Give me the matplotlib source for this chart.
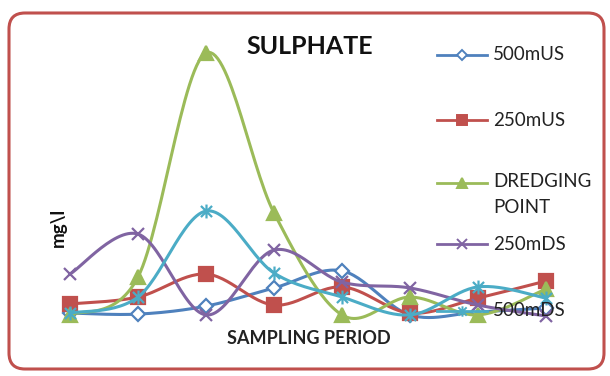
import numpy as np
import matplotlib
matplotlib.use("Agg")
import matplotlib.pyplot as plt
from matplotlib.patches import FancyBboxPatch
from matplotlib.lines import Line2D
from matplotlib.path import Path
from matplotlib.transforms import IdentityTransform

plt.rcParams['font.family'] = ['Lato', 'DejaVu Sans']

periods = [1, 2, 3, 4, 5, 6, 7, 8]
names = ['500mUS', '250mUS', 'DREDGING\nPOINT', '250mDS', '500mDS']
s500us = [2.6, 2.2, 5.2, 12.0, 18.4, 1.9, 3.0, 4.5]
s250us = [6.0, 8.6, 17.2, 5.6, 12.4, 2.6, 8.2, 14.6]
dredging = [1.9, 16.1, 100.0, 40.1, 1.9, 8.6, 1.9, 11.6]
s250ds = [17.2, 32.2, 1.9, 26.2, 14.2, 12.0, 5.6, 1.5]
s500ds = [2.6, 8.6, 40.8, 17.6, 8.6, 1.9, 12.4, 8.2]
series = [s500us, s250us, dredging, s250ds, s500ds]

colors = ['#4f81bd', '#c0504d', '#9bbb59', '#8064a2', '#4bacc6']
star = Path([(0, -1), (0, 1), (-0.8, -0.8), (0.8, 0.8), (-0.8, 0.8), (0.8, -0.8)],
            [Path.MOVETO, Path.LINETO, Path.MOVETO, Path.LINETO, Path.MOVETO, Path.LINETO])
markers = ['D', 's', '^', 'x', star]
msizes = [7, 10, 10, 9, 10]
faces = ['white', colors[1], colors[2], colors[3], colors[4]]


def smooth(x, y, n=30):
    # excel style smoothed line (catmull-rom bezier)
    pts = np.column_stack([x, y]).astype(float)
    out = []
    for i in range(len(pts) - 1):
        p0 = pts[max(i - 1, 0)]
        p1 = pts[i]
        p2 = pts[i + 1]
        p3 = pts[min(i + 2, len(pts) - 1)]
        c1 = p1 + (p2 - p0) / 6
        c2 = p2 - (p3 - p1) / 6
        t = np.linspace(0, 1, n)[:, None]
        seg = (1 - t)**3 * p1 + 3 * (1 - t)**2 * t * c1 + 3 * (1 - t) * t**2 * c2 + t**3 * p2
        out.append(seg if i == 0 else seg[1:])
    return np.vstack(out)


W, H = 610, 376
fig = plt.figure(figsize=(W / 100, H / 100), dpi=100)

ax = fig.add_axes([36 / W, (H - 320) / H, 544 / W, 267 / H])
ax.set_xlim(0.5, 8.5)
ax.set_ylim(0, 100)
ax.axis('off')

for vals, c, m, ms, fc in zip(series, colors, markers, msizes, faces):
    curve = smooth(periods, vals)
    ax.plot(curve[:, 0], curve[:, 1], color=c, lw=2.2, clip_on=False)
    ax.plot(periods, vals, ls='none', marker=m, ms=ms, mfc=fc, mec=c,
            mew=1.6, clip_on=False)

# legend drawn by hand so entries sit where excel put them
leg_y = [55, 120, 183, 244, 311]
for name, y, c, m, ms, fc in zip(names, leg_y, colors, markers, msizes, faces):
    fig.add_artist(Line2D([437 / W, 462 / W, 487 / W], [(H - y) / H] * 3, color=c, lw=2,
                          marker=m, markevery=[1], ms=ms * 0.75, mfc=fc, mec=c, mew=1.4))
    if '\n' in name:
        fig.text(493 / W, (H - y + 10) / H, name, fontsize=13.5, va='top', ha='left',
                 color='#222222', linespacing=1.65)
    else:
        fig.text(493 / W, (H - y) / H, name, fontsize=13.5, va='center', ha='left',
                 color='#222222')

fig.text(310 / W, 1 - 47 / H, 'SULPHATE', fontsize=18, fontweight='bold',
         ha='center', va='center', color='#111111')
fig.text(58 / W, 1 - 227 / H, 'mg\\l', fontsize=13.5, fontweight='bold', rotation=90,
         ha='center', va='center', color='#111111')
fig.text(309 / W, 1 - 338 / H, 'SAMPLING PERIOD', fontsize=13, fontweight='bold',
         ha='center', va='center', color='#222222')

border = FancyBboxPatch((9, H - 369), 595, 356, boxstyle='round,pad=0,rounding_size=16',
                        transform=IdentityTransform(), fill=False, ec='#c0504d', lw=2.2)
fig.add_artist(border)

fig.savefig('out.png', dpi=100)
